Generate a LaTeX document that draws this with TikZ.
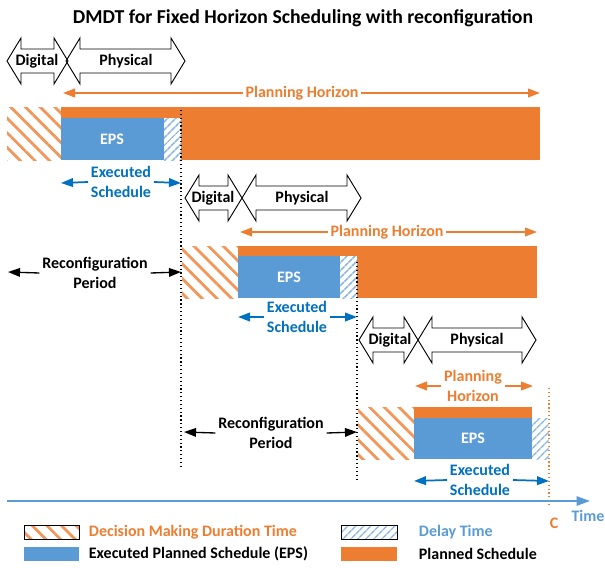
\documentclass[tikz,border=0pt]{standalone}
\usepackage{fontspec}
\setmainfont{Carlito}
\usetikzlibrary{arrows.meta,patterns.meta}
\definecolor{planorange}{HTML}{ED7D31}
\definecolor{epsblue}{HTML}{5B9BD5}
\definecolor{execblue}{HTML}{0070C0}

% double-headed phase arrow: #1 left tip x, #2 right tip x, #3 centre y
\newcommand{\phasearrow}[3]{%
  \draw[phase] (#1,#3) -- ({#1+14},{#3-23}) -- ({#1+14},{#3-12})
    -- ({#2-14},{#3-12}) -- ({#2-14},{#3-23}) -- (#2,#3)
    -- ({#2-14},{#3+23}) -- ({#2-14},{#3+12}) -- ({#1+14},{#3+12})
    -- ({#1+14},{#3+23}) -- cycle;}

\begin{document}
\begin{tikzpicture}[x=0.75pt,y=-0.75pt,
  lbl/.style={font=\fontsize{12}{15}\selectfont\bfseries, inner sep=2pt, align=center},
  phtext/.style={lbl, text=planorange},
  extext/.style={lbl, text=execblue},
  tip/.style={-{Triangle[length=9pt,width=6.5pt]}},
  phline/.style={tip, draw=planorange, line width=1.3pt},
  exline/.style={tip, draw=execblue, line width=1.3pt},
  rcline/.style={tip, draw=black, line width=1pt},
  phase/.style={draw=black, line width=0.7pt, line join=miter},
  dmdt/.style={pattern={Lines[angle=-45,distance=7.8pt,line width=2.1pt]}, pattern color=planorange!80},
  delay/.style={pattern={Lines[angle=45,distance=4pt,line width=1.2pt]}, pattern color=epsblue!75},
  planbar/.style={fill=planorange},
  epsbar/.style={fill=epsblue},
  cut/.style={black, dotted, line width=0.9pt},
  legendbox/.style={draw=black, line width=0.4pt}
]
\useasboundingbox (0,0) rectangle (605,567);

% title
\node[font=\fontsize{14.8}{17}\selectfont\bfseries] (title) at (303,18)
  {DMDT for Fixed Horizon Scheduling with reconfiguration};

% ---------------- cycle 1 ----------------
\phasearrow{7}{68}{61}
\phasearrow{66}{185}{61}
\node[lbl] (dig1) at (37,61) {Digital};
\node[lbl] (phy1) at (126,61) {Physical};

\coordinate (ph1a) at (63,93);
\coordinate (ph1b) at (540,93);
\node[phtext] (ph1) at (302,93) {Planning Horizon};
\draw[phline] (ph1.west) -- (ph1a);
\draw[phline] (ph1.east) -- (ph1b);

\fill[dmdt] (7,107) rectangle (61,160);
\fill[planbar] (61,107) rectangle (540,160);
\fill[white] (164,118) rectangle (181,160);
\fill[epsbar] (61,118) rectangle (164,160);
\fill[delay] (164,118) rectangle (181,160);
\node[lbl, text=white] (eps1) at (112,139) {EPS};

\coordinate (cut1a) at (181,110);
\coordinate (cut1b) at (181,467);
\draw[cut] (cut1a) -- (cut1b);

\coordinate (ex1a) at (61,183);
\coordinate (ex1b) at (181,183);
\node[extext] (ex1) at (121,182) {Executed\\Schedule};
\draw[exline] (ex1.west) -- (ex1a);
\draw[exline] (ex1.east) -- (ex1b);

% ---------------- cycle 2 ----------------
\phasearrow{185}{242}{198}
\phasearrow{242}{361}{198}
\node[lbl] (dig2) at (213,198) {Digital};
\node[lbl] (phy2) at (302,198) {Physical};

\coordinate (ph2a) at (240,232);
\coordinate (ph2b) at (537,232);
\node[phtext] (ph2) at (387,232) {Planning Horizon};
\draw[phline] (ph2.west) -- (ph2a);
\draw[phline] (ph2.east) -- (ph2b);

\fill[dmdt] (182,246) rectangle (238,298);
\fill[planbar] (238,246) rectangle (537,298);
\fill[white] (340,256) rectangle (357,298);
\fill[epsbar] (238,256) rectangle (340,298);
\fill[delay] (340,256) rectangle (357,298);
\node[lbl, text=white] (eps2) at (289,277) {EPS};

\coordinate (cut2a) at (357,262);
\coordinate (cut2b) at (357,480);
\draw[cut] (cut2a) -- (cut2b);

\coordinate (ex2a) at (238,317);
\coordinate (ex2b) at (357,317);
\node[extext] (ex2) at (297,317) {Executed\\Schedule};
\draw[exline] (ex2.west) -- (ex2a);
\draw[exline] (ex2.east) -- (ex2b);

\coordinate (rc1a) at (8,272);
\coordinate (rc1b) at (181,272);
\node[lbl] (rc1) at (95,273) {Reconfiguration\\Period};
\draw[rcline] (rc1.west) -- (rc1a);
\draw[rcline] (rc1.east) -- (rc1b);

% ---------------- cycle 3 ----------------
\phasearrow{359}{418}{340}
\phasearrow{418}{536}{340}
\node[lbl] (dig3) at (390,340) {Digital};
\node[lbl] (phy3) at (477,340) {Physical};

\coordinate (ph3a) at (415,386);
\coordinate (ph3b) at (533,386);
\node[phtext] (ph3) at (473,386) {Planning\\Horizon};
\draw[phline] (ph3.west) -- (ph3a);
\draw[phline] (ph3.east) -- (ph3b);

\fill[dmdt] (358,407) rectangle (414,459);
\fill[planbar] (414,407) rectangle (532,418);
\fill[epsbar] (414,418) rectangle (532,459);
\fill[delay] (532,418) rectangle (549,459);
\node[lbl, text=white] (eps3) at (473,438) {EPS};

\coordinate (ca) at (549,388);
\coordinate (cb) at (549,507);
\draw[planorange, dotted, line width=0.9pt] (ca) -- (cb);

\coordinate (ex3a) at (414,481);
\coordinate (ex3b) at (549,481);
\node[extext] (ex3) at (480,480) {Executed\\Schedule};
\draw[exline] (ex3.west) -- (ex3a);
\draw[exline] (ex3.east) -- (ex3b);

\coordinate (rc2a) at (184,432);
\coordinate (rc2b) at (357,432);
\node[lbl] (rc2) at (271,433) {Reconfiguration\\Period};
\draw[rcline] (rc2.west) -- (rc2a);
\draw[rcline] (rc2.east) -- (rc2b);

% ---------------- time axis ----------------
\coordinate (t0) at (7,501);
\coordinate (t1) at (590,501);
\draw[epsblue, line width=1.2pt, -{Triangle[length=10pt,width=7pt]}] (t0) -- (t1);
\node[lbl, text=epsblue] (timelbl) at (588,516) {Time};
\node[lbl, text=planorange] (clbl) at (554,523) {C};

% ---------------- legend ----------------
\path[dmdt, legendbox] (24,525) rectangle (79,539);
\node[lbl, text=planorange, anchor=west] (lg1) at (86,532) {Decision Making Duration Time};
\path[delay, legendbox] (341,525) rectangle (397,539);
\node[lbl, text=epsblue, anchor=west] (lg2) at (416,532) {Delay Time};
\fill[epsbar] (24,547) rectangle (79,561);
\node[lbl, anchor=west] (lg3) at (86,554) {Executed Planned Schedule (EPS)};
\fill[planbar] (341,547) rectangle (397,561);
\node[lbl, anchor=west] (lg4) at (416,554) {Planned Schedule};
\end{tikzpicture}
\end{document}
